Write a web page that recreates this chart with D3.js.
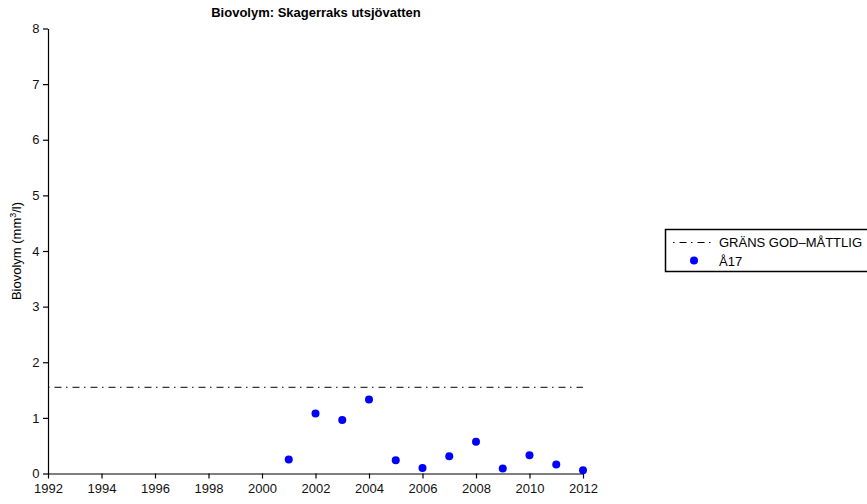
<!DOCTYPE html>
<html>
<head>
<meta charset="utf-8">
<script src="https://cdn.jsdelivr.net/npm/d3@7"></script>
<style>
  body { margin: 0; background: #fff; }
  text { font-family: "Liberation Sans", Arial, sans-serif; }
</style>
</head>
<body>
<script>
// data
var years = [2001, 2002, 2003, 2004, 2005, 2006, 2007, 2008, 2009, 2010, 2011, 2012];
var biovolym = [0.25, 1.08, 0.96, 1.33, 0.24, 0.10, 0.31, 0.57, 0.09, 0.33, 0.16, 0.06];
var grans = 1.55;
var xTicks = [1992, 1994, 1996, 1998, 2000, 2002, 2004, 2006, 2008, 2010, 2012];
var yTicks = [0, 1, 2, 3, 4, 5, 6, 7, 8];

var svg = d3.select("body").append("svg")
    .attr("width", 867)
    .attr("height", 504);

var x = d3.scaleLinear().domain([1992, 2012]).range([48, 583]);
var y = d3.scaleLinear().domain([0, 8]).range([473.5, 28.5]);

// axes
var gx = svg.append("g")
    .attr("transform", "translate(0,473.5)")
    .call(d3.axisBottom(x).tickValues(xTicks).tickFormat(d3.format("d")).tickSize(5).tickSizeOuter(0));
var gy = svg.append("g")
    .attr("transform", "translate(48,0)")
    .call(d3.axisLeft(y).tickValues(yTicks).tickSize(5).tickSizeOuter(0));
[gx, gy].forEach(function (g) {
    g.selectAll("path").attr("stroke", "#000").attr("stroke-width", 1.2);
    g.selectAll("line").attr("stroke", "#000").attr("stroke-width", 1.2);
    g.selectAll("text").attr("font-size", "13px").attr("fill", "#111")
        .style("font-family", "'Liberation Sans', Arial, sans-serif");
});
gx.selectAll("text").attr("dy", "0.85em");
gy.selectAll("text").attr("dx", "-0.05em");

// threshold line
svg.append("line")
    .attr("x1", x(1992)).attr("x2", x(2012))
    .attr("y1", y(grans)).attr("y2", y(grans))
    .attr("stroke", "#000")
    .attr("stroke-width", 1)
    .attr("stroke-dasharray", "1.5,5,7,4.5");

// points
svg.selectAll("circle.pt")
    .data(years)
    .enter().append("circle")
    .attr("class", "pt")
    .attr("cx", function (d) { return x(d); })
    .attr("cy", function (d, i) { return y(biovolym[i]); })
    .attr("r", 4)
    .attr("fill", "#0000ff");

// title
svg.append("text")
    .attr("x", 316).attr("y", 17)
    .attr("text-anchor", "middle")
    .attr("font-size", "13px")
    .attr("font-weight", "bold")
    .text("Biovolym: Skagerraks utsjövatten");

// y label
var yl = svg.append("text")
    .attr("transform", "translate(21,251) rotate(-90)")
    .attr("text-anchor", "middle")
    .attr("font-size", "13px");
yl.append("tspan").text("Biovolym (mm");
yl.append("tspan").attr("font-size", "9px").attr("dy", "-0.6em").text("3");
yl.append("tspan").attr("dy", "0.4em").text("/l)");

// legend
var lg = svg.append("g");
lg.append("rect")
    .attr("x", 665.5).attr("y", 229.5)
    .attr("width", 210).attr("height", 42)
    .attr("fill", "#fff")
    .attr("stroke", "#000")
    .attr("stroke-width", 1.5);
lg.append("line")
    .attr("x1", 673).attr("x2", 714)
    .attr("y1", 242.5).attr("y2", 242.5)
    .attr("stroke", "#000")
    .attr("stroke-dasharray", "1.5,5,7,4.5");
lg.append("text").attr("x", 719).attr("y", 247).attr("font-size", "13px").text("GRÄNS GOD\u2013MÅTTLIG");
lg.append("circle").attr("cx", 694).attr("cy", 260.5).attr("r", 4).attr("fill", "#0000ff");
lg.append("text").attr("x", 719).attr("y", 265.5).attr("font-size", "13px").text("Å17");
</script>
</body>
</html>
